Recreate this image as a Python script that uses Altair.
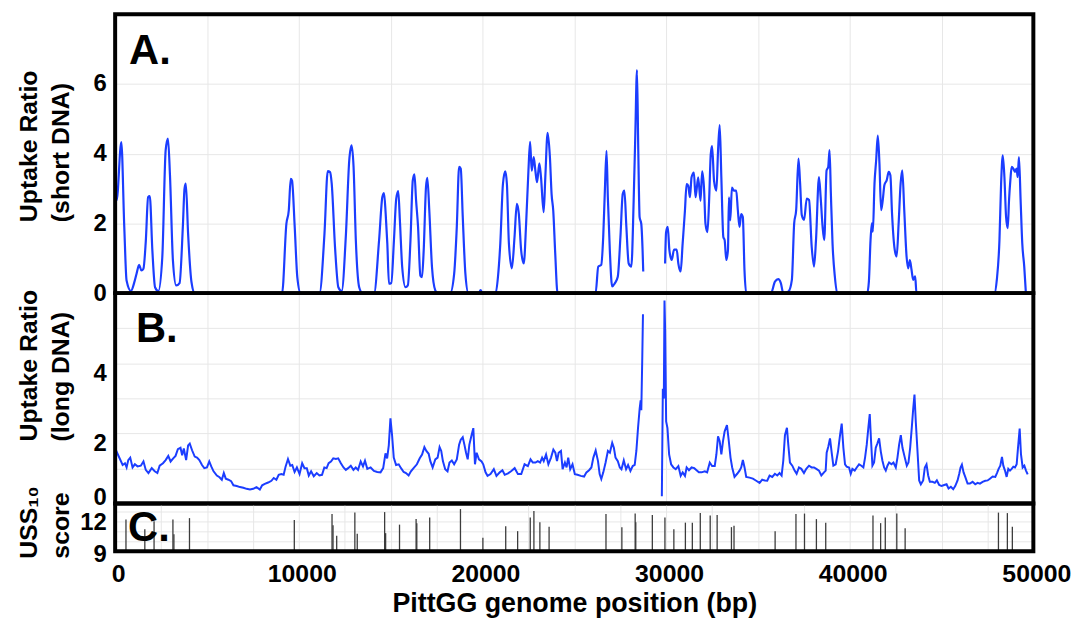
import altair as alt
import pandas as pd

# ---------------- data ----------------
# Panel A: uptake ratio, short DNA (two segments, gap near 29 kb)
a1_x = [0, 81, 335, 497, 622, 859, 1038, 1162, 1308, 1432, 1540, 1670, 1794, 1886, 2027, 2173, 2351, 2567, 2751, 2876,
        2984, 3146, 3324, 3508, 3686, 3778, 3848, 3973, 4156, 4335,
        9091, 9325, 9454, 9562, 9632, 9778, 9919, 10101,
        11128, 11398, 11577, 11701, 11793, 11973, 12154, 12334, 12568, 12748, 12875, 12983, 13107, 13289, 13469,
        14101, 14371, 14551, 14641, 14731, 14821, 14911, 15037, 15181, 15307, 15415, 15505, 15631, 15811, 15937, 16081,
        16207, 16297, 16387, 16495, 16621, 16711, 16801, 16927, 16999, 17107, 17253, 17433, 17559,
        18244, 18460, 18604, 18730, 18820, 18929, 19073, 19235,
        19800, 19900, 20000,
        20720, 20847, 20973, 21117, 21243, 21333, 21442, 21604, 21748, 21874, 21982, 22108, 22252, 22379, 22505, 22595,
        22685, 22793, 22883, 22973, 23099, 23190, 23334, 23424, 23550, 23676, 23766, 23856, 23964, 24090,
        26163, 26307, 26469, 26577, 26667, 26757, 26829, 26937, 27064, 27208, 27370, 27514, 27640, 27730, 27838, 27964,
        28109, 28235, 28325, 28415, 28487, 28559, 28649, 28721, 28757]
a1_y = [3.62, 2.66, 4.33, 1.9, 0.36, 0.06, 0.3, 0.55, 0.81, 0.65, 0.7, 1.5, 2.75, 2.78, 1.22, 0.17, 0.06, 1.03, 4.1, 4.43,
        3.4, 0.94, 0.22, 0.29, 1.9, 3.0, 3.14, 1.7, 0.32, 0,
        0, 1.99, 2.37, 3.28, 3.23, 1.9, 0.46, 0,
        0, 1.7, 3.5, 3.47, 3.14, 1.32, 0.17, 0.06, 1.7, 3.81, 4.24, 3.62, 1.51, 0.17, 0,
        0, 1.51, 2.76, 2.87, 2.28, 1.42, 0.27, 0.29, 1.51, 2.71, 2.93, 2.09, 0.75, 0.17, 0.22, 1.51,
        3.23, 3.41, 2.66, 1.9, 0.5, 0.46, 1.22, 3.04, 3.31, 2.37, 0.75, 0.08, 0,
        0, 0.55, 1.9, 3.62, 3.57, 2.18, 0.55, 0,
        0, 0.09, 0,
        0, 0.47, 1.42, 3.13, 3.49, 3.13, 1.42, 0.71, 1.61, 2.56, 2.27, 1.23, 0.85, 1.99, 3.51, 4.34,
        3.51, 3.9, 3.51, 3.18, 3.72, 3.32, 2.32, 3.32, 4.6, 3.89, 2.84, 2.37, 1.14, 0,
        0, 0.76, 0.81, 1.61, 2.94, 4.08, 2.75, 1.23, 0.19, 0.28, 0.47, 1.61, 2.84, 2.94, 1.9, 0.85,
        0.76, 2.65, 4.55, 6.4, 4.08, 2.18, 1.99, 1.23, 0.62]
a2_x = [29947, 30001, 30091, 30181, 30307, 30434, 30578, 30668, 30794, 30902, 31028, 31118, 31208, 31298, 31388, 31514,
        31605, 31749, 31875, 31965, 32073, 32145, 32253, 32343, 32433, 32505, 32613, 32740, 32830, 32920, 33010, 33118,
        33190, 33280, 33370, 33424, 33496, 33586, 33694, 33820, 33910, 34000, 34090, 34180, 34270, 34361,
        35713, 35929, 36109, 36254, 36380,
        36670, 36850, 36976, 37084, 37210, 37300, 37390, 37516, 37660, 37786, 37930, 38056, 38164, 38326, 38416, 38524,
        38614, 38740, 38830, 38902, 38974, 39064, 39190, 39316,
        40954, 41044, 41134, 41206, 41260, 41350, 41440, 41530, 41620, 41710, 41800, 41890, 42016, 42124, 42214, 42304,
        42430, 42556, 42664, 42772, 42862, 42970, 43096, 43186, 43276, 43366, 43456, 43564, 43636,
        47884, 48010, 48154, 48244, 48334, 48424, 48514, 48604, 48676, 48748, 48820, 48910, 49000, 49090, 49144, 49216,
        49306, 49396, 49504, 49594]
a2_y = [0.85, 1.75, 1.9, 1.23, 0.95, 1.25, 1.25, 0.85, 0.62, 1.42, 2.37, 3.13, 3.08, 2.75, 3.32, 3.46,
        2.75, 3.32, 2.65, 3.49, 2.94, 1.99, 1.75, 2.65, 3.98, 4.22, 3.22, 2.94, 4.08, 4.82, 3.32, 1.61,
        1.52, 0.95, 1.23, 2.75, 2.09, 3.03, 2.94, 2.94, 2.37, 1.9, 2.27, 2.18, 0.66, 0,
        0, 0.33, 0.4, 0.28, 0,
        0.05, 0.38, 2.0, 2.38, 3.86, 3.14, 2.24, 2.1, 2.71, 2.67, 1.33, 0.76, 1.52, 3.33, 2.76, 1.9,
        1.52, 3.52, 3.62, 4.1, 2.86, 1.43, 0.48, 0,
        0, 0.33, 1.52, 2.0, 1.76, 3.14, 3.81, 4.52, 3.71, 2.38, 2.67, 3.1, 3.24, 3.48, 3.38, 2.29,
        1.33, 1.05, 2.0, 3.14, 3.52, 2.38, 1.05, 0.71, 0.95, 0.67, 0.38, 0.48, 0,
        0, 0.38, 1.52, 3.14, 3.95, 3.33, 2.19, 1.86, 2.67, 3.24, 3.62, 3.57, 3.48, 3.57, 3.33, 3.9,
        2.67, 1.43, 0.76, 0]

# Panel B: uptake ratio, long DNA (two segments)
b1_x = [0, 408, 534, 624, 714, 822, 948, 1074, 1218, 1398, 1542, 1668, 1812, 1992, 2154, 2299, 2425, 2605, 2749, 2893,
        3019, 3163, 3289, 3415, 3559, 3649, 3739, 3865, 3973, 4063, 4189, 4333, 4459, 4585, 4729, 4855, 4999, 5125,
        5233, 5359, 5539, 5683, 5809, 5917, 6025, 6169, 6314, 6440, 6620, 6800, 6980, 7160, 7340, 7520, 7700, 7880,
        8006, 8150, 8330, 8510, 8636, 8780, 8906, 9050, 9176, 9284, 9411, 9537, 9645, 9771, 9897, 10041, 10185,
        10311, 10437, 10545, 10671, 10815, 10977, 11121, 11265, 11391, 11517, 11625, 11751, 11877, 12021, 12147,
        12291, 12435, 12561, 12687, 12831, 12975, 13101, 13227, 13371, 13497, 13605, 13731, 13911, 14091, 14271,
        14451, 14595, 14721, 14811, 14901, 14991, 15081, 15171, 15297, 15441, 15567, 15711, 15837, 15981, 16107,
        16251, 16431,
        16586, 16713, 16839, 16947, 17073, 17163, 17289, 17433, 17559, 17667, 17757, 17847, 17973, 18099, 18207,
        18333, 18460, 18604, 18730, 18820, 18928, 19018, 19108, 19198, 19288, 19414, 19504, 19594, 19684, 19810,
        19954, 20044, 20170, 20278, 20440, 20620, 20764, 20944, 21089, 21215, 21395, 21575, 21755, 21935, 22115,
        22295, 22475, 22619, 22745, 22889, 23015, 23141, 23249, 23339, 23465, 23591, 23735, 23862, 23970, 24060,
        24150, 24276, 24366, 24492, 24582, 24672, 24780, 24906, 25032, 25176, 25356, 25536, 25663, 25807, 25933,
        26041, 26167, 26293, 26383, 26473, 26581, 26707, 26833, 26941, 27067, 27157, 27247, 27373, 27481, 27571,
        27697, 27823, 27931, 28058, 28184, 28292, 28382, 28472, 28562, 28616, 28652, 28706, 28742]
b1_y = [1.57, 1.1, 1.15, 1.03, 1.24, 1.31, 1.03, 1.12, 1.06, 1.08, 1.2, 0.96, 0.87, 1.01, 0.92, 0.87, 1.08, 1.15, 1.24, 1.36,
        1.2, 1.29, 1.36, 1.55, 1.59, 1.38, 1.57, 1.24, 1.66, 1.71, 1.52, 1.34, 1.31, 1.24, 1.1, 1.01, 1.03, 1.2,
        1.06, 0.92, 0.8, 0.75, 0.68, 0.87, 0.71, 0.68, 0.64, 0.52, 0.5, 0.47, 0.45, 0.42, 0.4, 0.42, 0.47, 0.4,
        0.52, 0.56, 0.6, 0.65, 0.73, 0.68, 0.82, 0.84, 0.82, 1.06, 1.27, 1.08, 1.1, 0.9, 1.03, 0.84, 1.15,
        1.01, 1.01, 0.8, 0.92, 0.78, 0.87, 0.8, 0.82, 1.03, 1.01, 1.15, 1.2, 1.29, 1.27, 1.29,
        1.15, 1.03, 0.96, 1.01, 1.08, 0.96, 1.03, 0.96, 1.2, 1.06, 1.22, 0.99, 1.03, 0.93, 0.9,
        0.89, 1.01, 1.43, 1.29, 1.66, 2.43, 1.94, 1.31, 1.1, 1.12, 1.01, 0.9, 0.87, 0.8, 0.92,
        1.01, 1.12,
        1.29, 1.4, 1.61, 1.5, 1.42, 1.21, 1.03, 1.26, 1.31, 1.61, 1.5, 1.21, 0.98, 0.92, 1.17,
        1.23, 1.12, 1.26, 1.68, 1.82, 1.89, 1.68, 1.45, 1.26, 1.68, 1.96, 2.15, 1.12, 1.45, 1.26,
        1.2, 1.12, 0.89, 0.79, 0.84, 0.98, 0.79, 0.89, 0.95, 0.82, 0.86, 0.93, 1.01, 0.84, 0.84,
        1.12, 1.07, 1.26, 1.17, 1.17, 1.21, 1.17, 1.31, 1.21, 1.4, 1.12, 1.31, 1.54, 1.45, 1.21,
        1.45, 1.5, 0.98, 1.17, 1.03, 1.31, 0.98, 1.12, 0.84, 0.82, 0.79, 0.77, 0.89, 0.95, 1.03,
        1.31, 1.51, 1.21, 0.84, 0.7, 0.89, 1.17, 1.5, 1.45, 1.73, 1.59, 1.31, 1.21, 1.03, 0.98,
        1.23, 0.98, 1.1, 0.93, 1.07, 1.1, 1.5, 2.15, 2.71, 2.94, 2.66, 4.21, 5.4]
b2_x = [29770, 29824, 29878, 29914, 29950, 30004, 30076, 30166, 30274, 30400, 30526, 30670, 30796, 30904, 31030, 31120,
        31246, 31390, 31534, 31660, 31786, 31930, 32110, 32236, 32380, 32506, 32650, 32740, 32830, 32920, 33010,
        33100, 33190, 33316,
        33418, 33509, 33600, 33727, 33873, 34000, 34091, 34182, 34273, 34364, 34545, 34727, 34909, 35091, 35236,
        35382, 35509, 35636, 35782, 35927, 36055, 36182, 36291, 36382, 36473, 36582, 36655, 36745, 36873, 37000,
        37109, 37236, 37364, 37509, 37636, 37782, 37927, 38055, 38182, 38327, 38455, 38600, 38691, 38745, 38836,
        38927, 39018, 39109, 39236, 39364, 39473, 39564, 39655, 39745, 39836, 39964, 40055, 40145, 40273, 40382,
        40509, 40636, 40745, 40836, 40927, 41018, 41091, 41164, 41236, 41327, 41418, 41509, 41600, 41691, 41782,
        41873, 41964, 42055, 42145, 42273, 42382, 42509, 42600, 42691, 42782, 42873, 43000, 43109, 43200, 43291,
        43382, 43455, 43527, 43600, 43691, 43782, 43873, 44000, 44091, 44182, 44273, 44364, 44509, 44636, 44745,
        44873, 45000, 45145, 45273, 45382, 45509, 45636, 45745, 45873, 45964, 46036, 46109, 46200, 46291, 46418,
        46545, 46691, 46836, 46964, 47091, 47236, 47382, 47509, 47636, 47782, 47927, 48018, 48109, 48200, 48291,
        48364, 48455, 48545, 48636, 48727, 48818, 48909, 49000, 49091, 49164, 49255, 49327, 49418, 49509, 49600,
        49691]
b2_y = [0.21, 3.27, 2.99, 5.79, 4.95, 2.34, 2.15, 1.4, 1.12, 1.03, 0.98, 1.07, 0.79, 0.89, 0.79, 1.03,
        0.95, 1.03, 1.01, 0.95, 0.89, 0.89, 0.92, 0.89, 1.17, 1.07, 1.07, 1.4, 1.92, 1.78, 1.4,
        1.78, 2.06, 2.24,
        1.77, 1.31, 1.03, 0.76, 0.85, 0.94, 1.03, 1.24, 1.03, 0.76, 0.74, 0.71, 0.65, 0.59, 0.68,
        0.66, 0.65, 0.8, 0.76, 0.85, 0.8, 0.87, 0.8, 1.22, 1.95, 2.16, 1.68, 1.17, 1.08, 0.94,
        0.85, 1.03, 0.99, 0.87, 0.99, 1.08, 1.03, 1.03, 0.99, 0.94, 0.8, 0.89, 0.94, 1.45, 1.63,
        1.86, 1.45, 1.08, 1.12, 1.49, 1.95, 2.28, 1.59, 1.12, 1.05, 1.03, 0.85, 0.99, 0.94, 1.03,
        1.12, 1.08, 1.03, 1.31, 1.68, 2.18, 2.55, 1.77, 1.08, 1.17, 1.59, 1.72, 1.86, 1.49, 1.22,
        1.03, 0.94, 1.08, 1.17, 1.12, 1.17, 1.03, 1.31, 1.68, 1.95, 1.59, 1.31, 1.08, 1.17, 1.59,
        2.18, 2.69, 3.11, 2.32, 1.49, 0.66, 0.55, 0.66, 1.03, 1.12, 0.8, 0.62, 0.62, 0.59, 0.66,
        0.53, 0.5, 0.53, 0.55, 0.43, 0.48, 0.41, 0.5, 0.66, 0.85, 1.03, 1.11, 0.89, 0.76, 0.57,
        0.57, 0.62, 0.55, 0.59, 0.57, 0.62, 0.65, 0.66, 0.71, 0.77, 0.76, 0.87, 0.99, 1.08, 1.33,
        1.08, 0.94, 0.76, 0.99, 0.94, 0.99, 1.05, 1.03, 1.12, 1.59, 2.14, 1.4, 1.03, 1.08, 0.94,
        0.83]

# Panel C: USS10 sites (position, score)
uss_x = [589, 1616, 2119, 3146, 3200, 4048, 9756, 11810, 11864, 12064, 13053, 13183, 14675, 14729, 15485, 16388,
         16426, 17128, 18804, 20025, 21268, 21917, 22604, 22803, 23128, 23630,
         26728, 27593, 28317, 28350, 29252, 29938, 30424, 31052, 31430, 31863, 32403, 32781, 33560, 33700, 35938,
         37073, 37538, 38186, 38694, 41267, 41683, 41937, 42564, 43018, 48099, 48585, 48856]
uss_score = [12.15, 11.2, 12.0, 12.15, 10.7, 12.3, 12.1, 12.7, 11.6, 10.55, 12.85, 10.75, 12.9, 10.8, 11.65, 12.2,
             11.8, 12.35, 13.2, 10.35, 11.5, 11.0, 12.35, 13.0, 11.9, 11.45,
             12.7, 11.4, 12.75, 11.9, 12.6, 12.35, 11.2, 11.85, 11.85, 12.8, 12.55, 12.6, 11.4, 11.55, 11.0,
             12.7, 12.75, 12.2, 11.85, 12.55, 11.8, 12.35, 12.75, 11.3, 12.85, 12.8, 11.45]

panel_letters = ["A.", "B.", "C."]
y_titles = [["Uptake Ratio", "(short DNA)"], ["Uptake Ratio", "(long DNA)"], ["USS\u2081\u2080", "score"]]
x_title = "PittGG genome position (bp)"

# ---------------- styling ----------------
BLUE = "#1b3dff"
GRID = "#e7e7e7"
FONT = "Liberation Sans"
W = 925
HA, HB, HC = 281, 212, 48


def seg_frame(parts):
    frames = []
    for i, (xs, ys) in enumerate(parts):
        frames.append(pd.DataFrame({"x": xs, "y": ys, "seg": i}))
    return pd.concat(frames, ignore_index=True)


dfA = seg_frame([(a1_x, a1_y), (a2_x, a2_y)])
dfB = seg_frame([(b1_x, b1_y), (b2_x, b2_y)])
dfC = pd.DataFrame({"x": uss_x, "score": uss_score})

xscale = alt.Scale(domain=[0, 50000], nice=False, zero=False)
grid5k = list(range(0, 50001, 5000))
grid2k5 = list(range(0, 50001, 2500))


def x_hidden():
    return alt.Axis(values=grid5k, labels=False, ticks=False, domain=False, title=None,
                    grid=True, gridColor=GRID, gridWidth=1)


def y_axis(values, title, title_y, label_expr=None, label_offset=None):
    kw = dict(values=values, title=title, grid=True, gridColor=GRID, gridWidth=1,
              ticks=False, tickSize=0, domain=False, labelPadding=9, labelOverlap=False,
              titleAngle=270, titleAlign="left", titleBaseline="top", titleX=-99, titleY=title_y,
              titleLineHeight=32)
    if label_expr:
        kw["labelExpr"] = label_expr
    if label_offset is not None:
        kw["labelOffset"] = label_offset
    return alt.Axis(**kw)


def decorations(letter, lx, ly, h):
    one = pd.DataFrame({"label": [letter]})
    border = alt.Chart(one).mark_rect(filled=False, stroke="black", strokeWidth=4).encode(
        x=alt.value(0), x2=alt.value(W), y=alt.value(0), y2=alt.value(h))
    text = alt.Chart(one).mark_text(align="left", baseline="alphabetic", font=FONT, fontSize=42,
                                    fontWeight="bold", color="black").encode(
        text="label:N", x=alt.value(lx), y=alt.value(ly))
    return border, text


# Panel A
lineA = alt.Chart(dfA).mark_line(color=BLUE, strokeWidth=2.2, interpolate="monotone").encode(
    x=alt.X("x:Q", scale=xscale, axis=x_hidden()),
    y=alt.Y("y:Q", scale=alt.Scale(domain=[0, 8], nice=False),
            axis=y_axis([0, 2, 4, 6], y_titles[0], 209)),
    detail="seg:N",
)
bA, tA = decorations(panel_letters[0], 14, 50, HA)
panelA = alt.layer(lineA, bA, tA).properties(width=W, height=HA)

# Panel B
lineB = alt.Chart(dfB).mark_line(color=BLUE, strokeWidth=2.0).encode(
    x=alt.X("x:Q", scale=xscale, axis=x_hidden()),
    y=alt.Y("y:Q", scale=alt.Scale(domain=[0, 6], nice=False),
            axis=y_axis([0, 1, 2, 3, 4, 5], y_titles[1], 149,
                        "datum.value % 2 == 0 ? datum.label : ''",
                        {"condition": {"test": "datum.value == 0", "value": -6}, "value": 10})),
    detail="seg:N",
)
bB, tB = decorations(panel_letters[1], 21, 49, HB)
panelB = alt.layer(lineB, bB, tB).properties(width=W, height=HB)

# Panel C
rulesC = alt.Chart(dfC).mark_rule(color="#3c3c3c", strokeWidth=1.3).encode(
    x=alt.X("x:Q", scale=xscale,
            axis=alt.Axis(values=grid2k5, format="d",
                          labelExpr="datum.value % 10000 == 0 ? datum.label : ''",
                          labelOverlap=False, labelFlush=False, ticks=False, tickSize=0, domain=False,
                          grid=True, gridColor=GRID, gridWidth=1, labelPadding=11, labelOffset=3,
                          labelFontSize=25, title=x_title, titleFontSize=27, titlePadding=4)),
    y=alt.Y("score:Q", scale=alt.Scale(domain=[9, 13.75], nice=False, zero=False),
            axis=y_axis([9, 10, 11, 12, 13], y_titles[2], 55,
                        "datum.value == 9 || datum.value == 12 ? datum.label : ''",
                        {"condition": {"test": "datum.value == 9", "value": 3}, "value": 1})),
    y2=alt.datum(9),
)
bC, tC = decorations(panel_letters[2], 13, 38, HC)
panelC = alt.layer(rulesC, bC, tC).properties(width=W, height=HC)

chart = alt.vconcat(panelA, panelB, panelC, spacing=0, bounds="flush").properties(
    padding={"left": 17, "top": 10, "right": 10, "bottom": 2},
    background="white",
).configure_view(stroke=None).configure_axis(
    labelFont=FONT, titleFont=FONT, labelFontSize=24, labelFontWeight="bold", labelColor="black",
    titleColor="black", titleFontWeight="bold", titleFontSize=25,
)

chart.save("out.html", embed_options={"renderer": "svg", "actions": False})
